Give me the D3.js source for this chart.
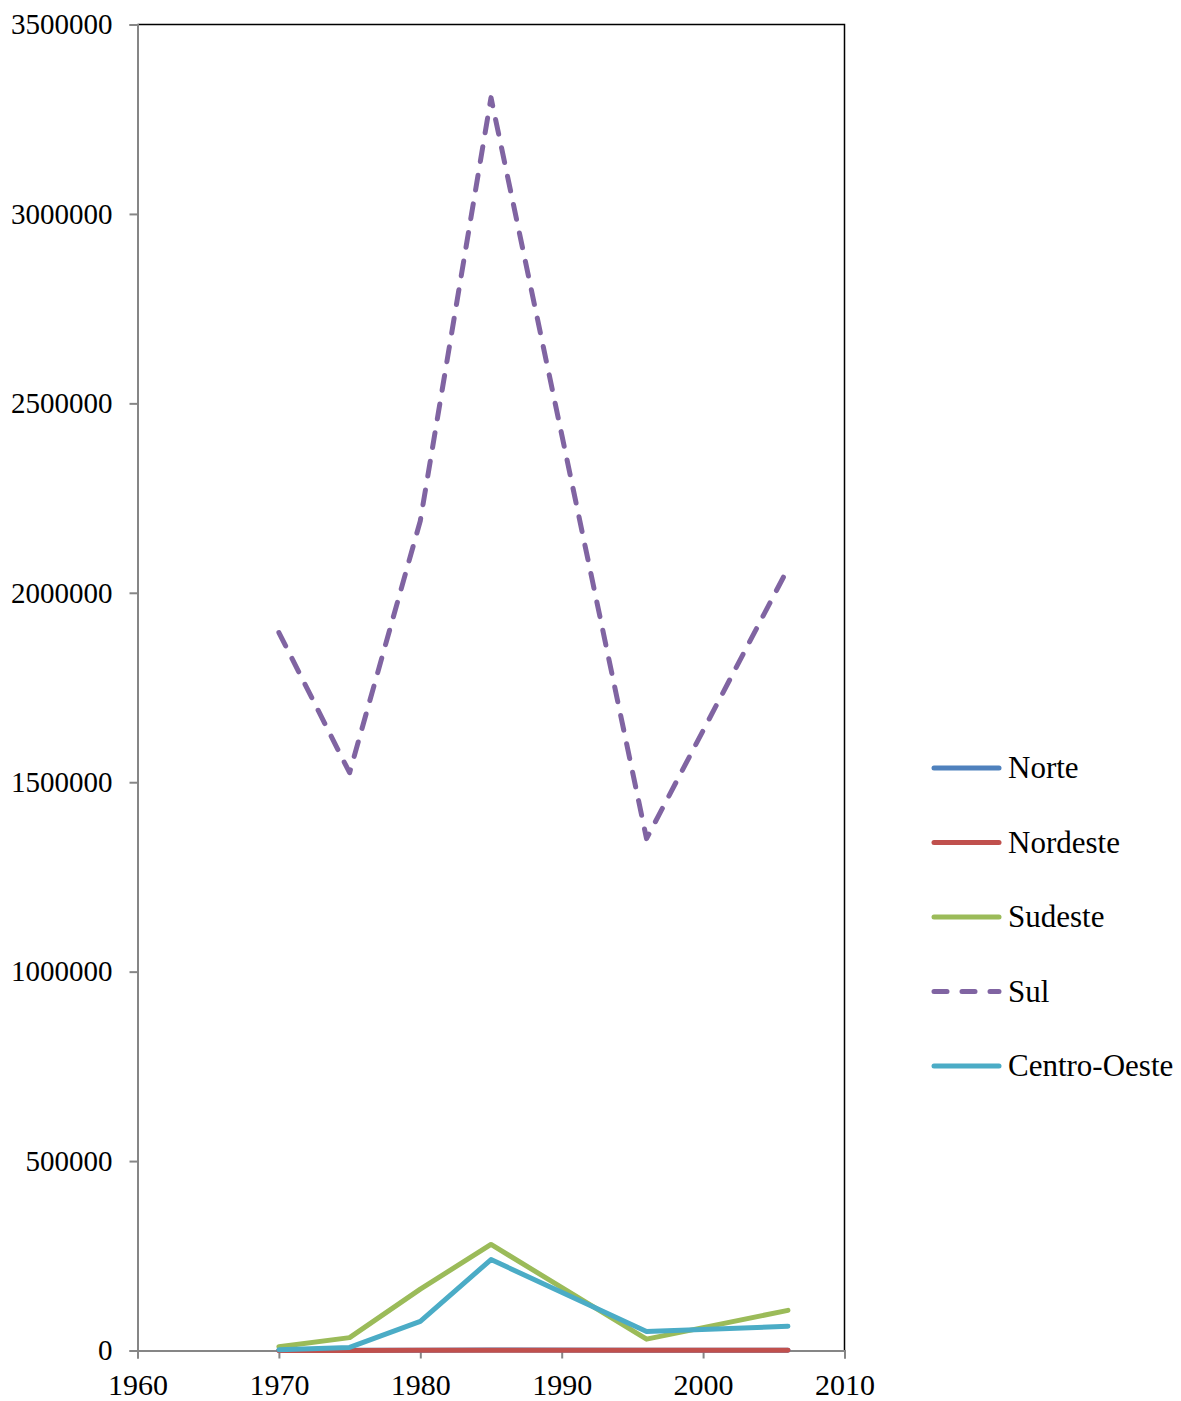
<!DOCTYPE html>
<html><head><meta charset="utf-8">
<script src="https://cdn.jsdelivr.net/npm/d3@7"></script>
<style>body{margin:0;background:#fff;} text{font-family:"Liberation Serif","Times New Roman",serif;fill:#000;}</style>
</head><body><svg id="c" width="1181" height="1401"></svg>
<script>
const years = [1970, 1975, 1980, 1985, 1996, 2006];
const seriesNames = ["Norte", "Nordeste", "Sudeste", "Sul", "Centro-Oeste"];
const norte = [300, 400, 800, 1200, 700, 900];
const nordeste = [200, 300, 500, 900, 400, 600];
const sudeste = [10000, 34000, 162000, 280000, 30000, 106000];
const sul = [1895000, 1525000, 2190000, 3307000, 1351000, 2064000];
const centroOeste = [2000, 8000, 77000, 240000, 50000, 64000];
const colors = ["#4F81BD", "#C0504D", "#9BBB59", "#8064A2", "#4BACC6"];
const yTicks = [0, 500000, 1000000, 1500000, 2000000, 2500000, 3000000, 3500000];
const xTicks = [1960, 1970, 1980, 1990, 2000, 2010];

const values = [norte, nordeste, sudeste, sul, centroOeste];
const svg = d3.select("#c");
const L = 137.5, R = 844.5, T = 24.5, B = 1350.5;
const x = d3.scaleLinear().domain([1960, 2010]).range([L, R]);
const y = d3.scaleLinear().domain([0, 3500000]).range([B, T]);

// plot border top/right
svg.append("path").attr("d", `M${L},${T}H${R}V${B}`).attr("fill","none").attr("stroke","#000").attr("stroke-width",1.5);

const yAxis = d3.axisLeft(y).tickValues(yTicks).tickSize(8).tickPadding(17).tickFormat(d3.format("d"));
const gy = svg.append("g").attr("transform",`translate(${L},0)`).call(yAxis);
gy.select(".domain").attr("stroke","#868686").attr("stroke-width",2);
gy.selectAll(".tick line").attr("stroke","#868686").attr("stroke-width",2);
gy.selectAll(".tick text").attr("font-size",29);

const xAxis = d3.axisBottom(x).tickValues(xTicks).tickSize(8).tickPadding(15).tickFormat(d3.format("d"));
const gx = svg.append("g").attr("transform",`translate(0,${B})`).call(xAxis);
gx.select(".domain").attr("stroke","#868686").attr("stroke-width",2);
gx.selectAll(".tick line").attr("stroke","#868686").attr("stroke-width",2);
gx.selectAll(".tick text").attr("font-size",30);

const line = d3.line().x((d,i)=>x(years[i])).y(d=>y(d));
[0,1,2,3,4].forEach(k=>{
  const p = svg.append("path").datum(values[k]).attr("d", line)
    .attr("fill","none").attr("stroke",colors[k]).attr("stroke-width",5)
    .attr("stroke-linejoin","round").attr("stroke-linecap","round");
  if (k===3) p.attr("stroke-dasharray","15,14");
});

// legend
const lg = svg.append("g");
seriesNames.forEach((n,i)=>{
  const yy = 768 + i*74.5;
  const l = lg.append("line").attr("x1",934).attr("x2",999).attr("y1",yy).attr("y2",yy)
    .attr("stroke",colors[i]).attr("stroke-width",5).attr("stroke-linecap","round");
  if (i===3) l.attr("stroke-dasharray","13,15");
  lg.append("text").attr("x",1008).attr("y",yy+10).attr("font-size",31).text(n);
});
</script></body></html>
